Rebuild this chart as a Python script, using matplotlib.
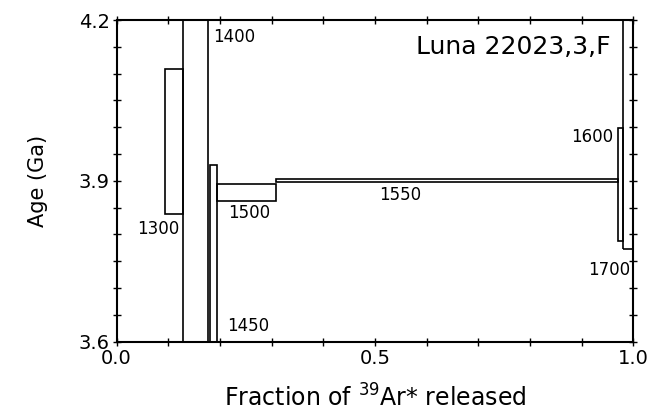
import matplotlib
matplotlib.use('Agg')
from matplotlib import pyplot as plt
from matplotlib.ticker import MultipleLocator, FixedLocator

# heating steps (deg C), released fraction limits, age limits (Ga)
steps = ['1300', '1400', '1450', '1500', '1550', '1600', '1700']
frac_lo = [0.094, 0.129, 0.180, 0.194, 0.309, 0.971, 0.979]
frac_hi = [0.129, 0.177, 0.194, 0.309, 0.971, 0.979, 1.000]
age_lo = [3.838, 3.50, 3.50, 3.863, 3.898, 3.788, 3.773]
age_hi = [4.109, 4.30, 3.930, 3.894, 3.903, 3.998, 4.25]

fig = plt.figure(figsize=(6.51, 4.18), dpi=100)
ax = fig.add_axes([0.179, 0.1825, 0.794, 0.7695])

widths = [b - a for a, b in zip(frac_lo, frac_hi)]
heights = [b - a for a, b in zip(age_lo, age_hi)]
ax.bar(frac_lo, heights, width=widths, bottom=age_lo, align='edge',
       fill=False, edgecolor='black', linewidth=1.2)

# step labels
lab = {'1300': (0.121, 3.810, 'right'), '1400': (0.186, 4.168, 'left'),
       '1450': (0.214, 3.629, 'left'), '1500': (0.215, 3.840, 'left'),
       '1550': (0.549, 3.874, 'center'), '1600': (0.961, 3.982, 'right'),
       '1700': (0.994, 3.734, 'right')}
for s in steps:
    x, y, ha = lab[s]
    ax.text(x, y, s, ha=ha, va='center', fontsize=12)

ax.text(0.955, 4.150, 'Luna 22023,3,F', ha='right', va='center', fontsize=18)

ax.set_xlim(0, 1)
ax.set_ylim(3.6, 4.2)
ax.xaxis.set_major_locator(FixedLocator([0, 0.5, 1.0]))
ax.xaxis.set_minor_locator(MultipleLocator(0.1))
ax.yaxis.set_major_locator(FixedLocator([3.6, 3.9, 4.2]))
ax.yaxis.set_minor_locator(MultipleLocator(0.05))
ax.tick_params(which='both', direction='inout', length=6, width=1.0,
               top=True, right=True, labelsize=14, pad=2)
for sp in ax.spines.values():
    sp.set_linewidth(1.5)

ax.set_xlabel('Fraction of $^{39}$Ar* released', fontsize=17, labelpad=12)
ax.set_ylabel('Age (Ga)', fontsize=15, labelpad=22)

plt.savefig('out.png', dpi=100)
